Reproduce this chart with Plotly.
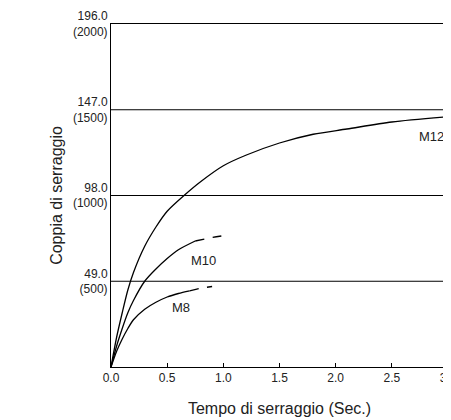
import plotly.graph_objects as go

m12_x = [0, 0.05, 0.1, 0.15, 0.2, 0.3, 0.4, 0.5, 0.65, 0.8, 1.0, 1.2, 1.5, 1.8, 2.1, 2.5, 3.0]
m12_y = [0, 17, 31, 44, 54, 69, 80, 89, 98, 106, 115, 121, 128, 133, 136, 140, 143]
m10_x = [0, 0.05, 0.1, 0.15, 0.2, 0.3, 0.4, 0.5, 0.6, 0.75]
m10_y = [0, 12, 22, 31, 38, 49, 56, 62, 67, 72]
m10d_x = [0.75, 0.9, 1.05]
m10d_y = [72, 74, 75.5]
m8_x = [0, 0.05, 0.1, 0.15, 0.2, 0.3, 0.4, 0.5, 0.6, 0.7]
m8_y = [0, 9, 16, 22, 27, 33, 37, 40, 42, 43.5]
m8d_x = [0.7, 0.8, 0.9]
m8d_y = [43.5, 45, 46]
y_ticks = [49, 98, 147, 196]
y_labels = ["49.0<br>(500)", "98.0<br>(1000)", "147.0<br>(1500)", "196.0<br>(2000)"]
x_ticks = [0, 0.5, 1.0, 1.5, 2.0, 2.5, 3.0]

fig = go.Figure()
for xs, ys, d in [(m12_x, m12_y, "solid"), (m10_x, m10_y, "solid"), (m10d_x, m10d_y, "dash"),
                  (m8_x, m8_y, "solid"), (m8d_x, m8d_y, "dash")]:
    fig.add_trace(go.Scatter(x=xs, y=ys, mode="lines",
                             line=dict(color="black", width=1.3, dash=d, shape="spline", smoothing=0.8),
                             showlegend=False, cliponaxis=False))
for t, x, y in [("M12", 2.85, 132), ("M10", 0.82, 61), ("M8", 0.62, 34)]:
    fig.add_annotation(x=x, y=y, text=t, showarrow=False, font=dict(size=13, color="#222"))
for g in [49, 98, 147]:
    fig.add_shape(type="line", x0=0, x1=3, y0=g, y1=g, line=dict(color="black", width=1.2))

fig.update_layout(
    width=451, height=420, margin=dict(l=103, r=11, t=16, b=61),
    plot_bgcolor="white", paper_bgcolor="white",
    font=dict(family="Liberation Sans, Arial", color="#222", size=12),
    xaxis=dict(range=[0, 3], tickvals=x_ticks, ticktext=[f"{v:.1f}" for v in x_ticks],
               automargin=False,
               showgrid=False, zeroline=False, showline=True, mirror=True, linecolor="black",
               ticks="inside", ticklen=4, tickcolor="black",
               title=dict(text="Tempo di serraggio (Sec.)", font=dict(size=16), standoff=18)),
    yaxis=dict(range=[0, 196], tickvals=y_ticks, ticktext=y_labels, automargin=False,
               showgrid=False, zeroline=False, showline=True, mirror=True, linecolor="black",
               ticks="", title=dict(text="Coppia di serraggio", font=dict(size=16), standoff=6)),
)
fig.write_html("out.html")
